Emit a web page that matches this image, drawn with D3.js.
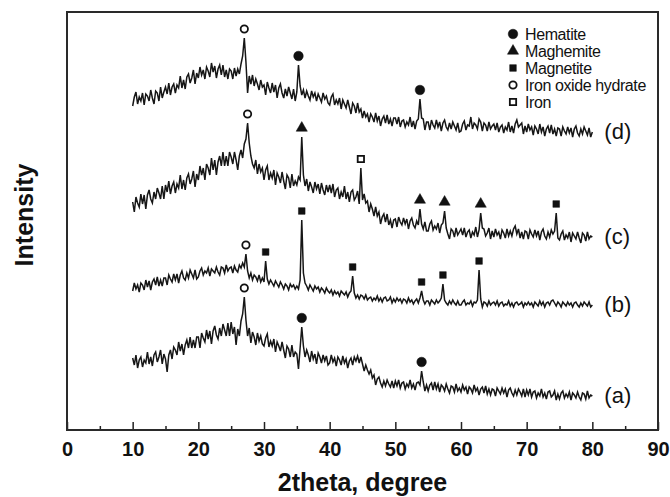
<!DOCTYPE html>
<html>
<head>
<meta charset="utf-8">
<script src="https://cdn.jsdelivr.net/npm/d3@7"></script>
<style>
  body { margin: 0; background: #fff; }
  text { font-family: "Liberation Sans", Arial, sans-serif; fill: #111; }
</style>
</head>
<body>
<div class="canvas"></div>
<script>
// 2theta grid: 10 .. 80 deg, 0.25 deg step
const thetaStart = 10;
const thetaStep = 0.25;

// pattern (a) - one row = 5 degrees
const intensityA = [
  42, 35, 45, 32, 40, 43, 33, 40, 37, 48, 36, 43, 34, 45, 48, 38, 43, 50, 36, 46,
  41, 28, 45, 50, 41, 53, 50, 45, 58, 49, 56, 45, 55, 60, 52, 63, 52, 60, 52, 63,
  63, 52, 67, 62, 58, 70, 61, 69, 56, 69, 74, 65, 61, 72, 64, 76, 70, 64, 77, 64,
  78, 66, 73, 55, 71, 64, 79, 86, 103, 80, 64, 72, 57, 68, 63, 55, 67, 59, 64, 56,
  54, 62, 66, 53, 59, 54, 61, 48, 58, 54, 49, 58, 50, 42, 54, 51, 43, 55, 43, 48,
  46, 31, 52, 73, 54, 43, 50, 45, 38, 49, 41, 46, 36, 47, 43, 37, 45, 39, 44, 35,
  37, 45, 38, 42, 34, 43, 40, 35, 44, 37, 41, 32, 39, 42, 35, 43, 39, 44, 37, 43,
  36, 29, 35, 30, 26, 30, 22, 25, 15, 21, 23, 17, 13, 19, 14, 20, 16, 13, 19, 12,
  19, 14, 20, 12, 17, 18, 11, 16, 13, 20, 12, 16, 10, 17, 18, 15, 29, 18, 9, 15,
  9, 15, 17, 10, 18, 11, 16, 8, 15, 13, 9, 16, 11, 7, 14, 13, 8, 16, 9, 12,
  8, 15, 10, 13, 6, 13, 11, 7, 15, 9, 12, 5, 11, 13, 7, 14, 6, 11, 5, 11,
  10, 4, 12, 9, 6, 12, 7, 11, 3, 10, 12, 7, 4, 10, 5, 11, 8, 4, 11, 3,
  10, 5, 11, 3, 8, 9, 2, 7, 4, 11, 3, 7, 1, 8, 9, 3, 5, 9, 0, 6,
  1, 7, 9, 2, 6, 3, 8, 0, 7, 5, 2, 8, 3, 0, 7, 6, 1, 9, 2, 5,
  4
];

// pattern (b)
const intensityB = [
  19, 27, 21, 25, 18, 27, 25, 20, 30, 23, 29, 20, 28, 31, 25, 33, 24, 30, 24, 32,
  32, 25, 35, 31, 28, 36, 30, 36, 27, 35, 39, 32, 30, 37, 32, 40, 36, 32, 40, 31,
  33, 39, 42, 35, 39, 37, 42, 34, 41, 39, 37, 43, 38, 35, 43, 42, 37, 45, 39, 42,
  43, 37, 44, 40, 38, 45, 42, 47, 43, 56, 39, 32, 37, 30, 35, 33, 29, 35, 28, 32,
  28, 49, 31, 26, 30, 27, 24, 29, 26, 23, 28, 25, 21, 26, 24, 20, 26, 23, 25, 21,
  24, 21, 30, 90, 37, 27, 24, 20, 25, 22, 19, 24, 21, 23, 18, 22, 20, 17, 22, 19,
  17, 20, 15, 19, 16, 18, 14, 19, 17, 15, 18, 13, 17, 19, 34, 17, 12, 15, 11, 15,
  14, 11, 15, 10, 12, 13, 9, 12, 10, 14, 9, 12, 8, 12, 13, 9, 10, 13, 7, 11,
  8, 12, 9, 11, 7, 11, 10, 7, 12, 8, 10, 6, 9, 11, 7, 12, 19, 10, 6, 9,
  9, 5, 10, 8, 6, 10, 7, 9, 12, 26, 10, 7, 5, 9, 6, 10, 7, 5, 9, 5,
  5, 8, 10, 5, 7, 6, 9, 4, 8, 7, 10, 40, 11, 3, 8, 7, 4, 9, 5, 7,
  8, 5, 9, 4, 7, 8, 4, 6, 5, 9, 4, 7, 3, 7, 8, 5, 6, 8, 3, 7,
  5, 8, 5, 7, 3, 8, 6, 4, 9, 5, 8, 3, 7, 8, 5, 9, 10, 7, 4, 8,
  6, 3, 8, 6, 4, 8, 5, 7, 3, 7, 8, 5, 3, 7, 4, 8, 6, 4, 8, 3,
  5
];

// pattern (c)
const intensityC = [
  38, 28, 43, 37, 33, 46, 36, 45, 31, 45, 50, 41, 37, 48, 41, 52, 47, 41, 54, 41,
  55, 48, 59, 46, 54, 58, 47, 56, 52, 65, 51, 60, 50, 62, 66, 56, 61, 69, 53, 66,
  60, 74, 65, 72, 60, 76, 72, 65, 82, 70, 80, 65, 78, 84, 74, 88, 74, 84, 74, 88,
  83, 76, 88, 80, 70, 84, 90, 82, 96, 101, 117, 97, 84, 76, 72, 80, 66, 76, 68, 72,
  60, 70, 74, 60, 67, 62, 70, 55, 67, 63, 57, 68, 59, 51, 65, 62, 52, 66, 54, 59,
  55, 63, 60, 103, 65, 54, 61, 49, 58, 53, 47, 58, 51, 56, 46, 57, 50, 45, 55, 48,
  55, 47, 56, 43, 50, 52, 41, 48, 43, 54, 41, 48, 38, 48, 50, 40, 43, 49, 36, 72,
  40, 46, 37, 39, 28, 36, 31, 24, 33, 24, 28, 16, 23, 26, 18, 26, 15, 20, 12, 20,
  21, 13, 23, 18, 15, 22, 16, 21, 11, 19, 22, 15, 12, 19, 15, 31, 16, 11, 18, 9,
  9, 16, 19, 10, 14, 11, 17, 7, 15, 17, 29, 12, 6, 1, 11, 9, 3, 12, 5, 8,
  11, 5, 12, 3, 8, 10, 2, 8, 5, 13, 3, 10, 27, 12, 11, 4, 7, 12, 1, 9,
  3, 11, 5, 8, 1, 10, 7, 2, 11, 4, 9, 4, 11, 14, 6, 11, 2, 8, 1, 9,
  8, 1, 10, 6, 3, 10, 4, 9, 0, 8, 11, 4, 1, 8, 3, 10, 6, 9, 27, 2,
  0, 6, 9, 0, 5, 2, 8, -2, 7, 4, 1, 8, 2, -3, 7, 5, -1, 8, 1, 4,
  3
];

// pattern (d)
const intensityD = [
  29, 38, 43, 31, 38, 34, 42, 30, 41, 39, 34, 45, 37, 31, 44, 42, 34, 48, 37, 43,
  48, 41, 52, 40, 48, 51, 42, 50, 47, 59, 47, 55, 46, 58, 61, 52, 57, 65, 51, 62,
  57, 68, 60, 65, 56, 68, 64, 58, 72, 63, 69, 57, 66, 70, 60, 70, 58, 65, 56, 66,
  64, 56, 67, 59, 66, 61, 71, 79, 97, 73, 42, 59, 51, 60, 49, 56, 51, 45, 55, 48,
  50, 40, 53, 47, 42, 52, 43, 50, 37, 47, 51, 42, 37, 46, 39, 48, 42, 36, 46, 34,
  43, 70, 49, 40, 45, 37, 44, 39, 35, 44, 38, 42, 34, 41, 37, 33, 42, 36, 39, 32,
  30, 38, 41, 30, 35, 31, 37, 26, 35, 31, 27, 35, 28, 21, 32, 29, 22, 32, 23, 26,
  17, 24, 18, 21, 13, 21, 18, 13, 22, 14, 19, 9, 16, 19, 12, 20, 11, 16, 9, 17,
  17, 11, 18, 8, 14, 15, 8, 13, 10, 18, 8, 14, 6, 14, 16, 36, 17, 16, 5, 13,
  13, 5, 15, 10, 7, 15, 8, 13, 4, 12, 15, 8, 5, 12, 6, 13, 9, 5, 12, 3,
  4, 11, 14, 5, 10, 9, 18, 6, 12, 10, 6, 16, 13, 4, 12, 10, 4, 13, 6, 9,
  11, 5, 12, 3, 8, 10, 2, 8, 5, 13, 3, 9, 2, 11, 15, 8, 10, 12, 1, 9,
  3, 11, 5, 8, 0, 9, 6, 1, 11, 3, 8, -1, 6, 9, 2, 10, 1, 6, -1, 7,
  6, -1, 8, 4, 1, 8, 2, 7, -2, 6, 9, 2, -1, 6, 1, 8, 4, 0, 7, -2,
  3
];

const patternNames = ["(a)", "(b)", "(c)", "(d)"];
const patternOffsets = [30, 120, 190, 295];

// peak identification marks
const peakPattern = ["(a)", "(a)", "(a)",
  "(b)", "(b)", "(b)", "(b)", "(b)", "(b)", "(b)",
  "(c)", "(c)", "(c)", "(c)", "(c)", "(c)", "(c)",
  "(d)", "(d)", "(d)"];
const peakAngle = [27, 35.75, 54,
  27.25, 30.25, 35.75, 43.5, 54, 57.25, 62.75,
  27.5, 35.75, 44.75, 53.75, 57.5, 63, 74.5,
  27, 35.25, 53.75];
const peakPhase = ["Iron oxide hydrate", "Hematite", "Hematite",
  "Iron oxide hydrate", "Magnetite", "Magnetite", "Magnetite", "Magnetite", "Magnetite", "Magnetite",
  "Iron oxide hydrate", "Maghemite", "Iron", "Maghemite", "Maghemite", "Maghemite", "Magnetite",
  "Iron oxide hydrate", "Hematite", "Hematite"];

const phaseNames = ["Hematite", "Maghemite", "Magnetite", "Iron oxide hydrate", "Iron"];
const xTicks = [0, 10, 20, 30, 40, 50, 60, 70, 80, 90];
const xMinorTicks = [5, 15, 25, 35, 45, 55, 65, 75, 85];

const margin = { top: 12, right: 12, bottom: 67, left: 67 };
const width = 670 - margin.left - margin.right;
const height = 497 - margin.top - margin.bottom;

const svg = d3
  .select(".canvas")
  .append("svg")
  .attr("width", width + margin.left + margin.right)
  .attr("height", height + margin.top + margin.bottom)
  .append("g")
  .attr("transform", `translate(${margin.left},${margin.top})`);

const x = d3.scaleLinear().domain([0, 90]).range([0, width]);
const y = d3.scaleLinear().domain([0, 418]).range([height, 0]);

const series = [intensityA, intensityB, intensityC, intensityD].map((arr, i) => ({
  name: patternNames[i],
  offset: patternOffsets[i],
  values: arr.map((v, j) => ({ t: thetaStart + j * thetaStep, v: v }))
}));

const line = d3
  .line()
  .x((d) => x(d.t))
  .y((d) => y(d.v));

// patterns
series.forEach((s) => {
  svg
    .append("path")
    .datum(s.values.map((d) => ({ t: d.t, v: d.v + s.offset })))
    .attr("d", line)
    .attr("fill", "none")
    .attr("stroke", "#161616")
    .attr("stroke-width", 1.5);

  const tail = s.values.slice(-12);
  const level = d3.mean(tail, (d) => d.v) + s.offset;
  svg
    .append("text")
    .attr("x", x(80) + 12)
    .attr("y", y(level))
    .attr("dy", "0.35em")
    .style("font-size", "22px")
    .text(s.name);
});

// marker shapes per phase
const phaseStyle = {
  "Hematite": { type: d3.symbolCircle, size: 72, filled: true },
  "Maghemite": { type: d3.symbolTriangle, size: 54, filled: true },
  "Magnetite": { type: d3.symbolSquare, size: 44, filled: true },
  "Iron oxide hydrate": { type: d3.symbolCircle, size: 42, filled: false },
  "Iron": { type: d3.symbolSquare, size: 40, filled: false }
};

function drawMark(g, phase, cx, cy) {
  const st = phaseStyle[phase];
  g.append("path")
    .attr("d", d3.symbol().type(st.type).size(st.size)())
    .attr("transform", `translate(${cx},${cy})`)
    .attr("fill", st.filled ? "#111" : "#fff")
    .attr("stroke", "#111")
    .attr("stroke-width", st.filled ? 0.5 : 1.8);
}

peakAngle.forEach((t, i) => {
  const s = series[patternNames.indexOf(peakPattern[i])];
  const idx = Math.round((t - thetaStart) / thetaStep);
  const top = y(s.values[idx].v + s.offset);
  drawMark(svg, peakPhase[i], x(t), top - 9);
});

// legend
const legend = svg.append("g").attr("transform", `translate(${513 - margin.left},${34 - margin.top})`);
phaseNames.forEach((p, i) => {
  drawMark(legend, p, 0, i * 17);
  legend
    .append("text")
    .attr("x", 12)
    .attr("y", i * 17)
    .attr("dy", "0.36em")
    .style("font-size", "16px")
    .style("letter-spacing", "-0.4px")
    .text(p);
});

// axis
const xAxis = svg.append("g").attr("transform", `translate(0,${height})`);
xAxis.call(
  d3.axisBottom(x).tickValues(xTicks).tickSizeInner(-8).tickSizeOuter(0).tickPadding(12)
);
xAxis.select(".domain").remove();
xAxis.selectAll(".tick line").attr("stroke", "#222").attr("stroke-width", 1.5);
xAxis.selectAll("text").style("font-size", "20px").style("font-weight", "bold").attr("fill", "#111");

const xMinor = svg.append("g").attr("transform", `translate(0,${height})`);
xMinor.call(d3.axisBottom(x).tickValues(xMinorTicks).tickSizeInner(-4).tickSizeOuter(0).tickFormat(""));
xMinor.select(".domain").remove();
xMinor.selectAll(".tick line").attr("stroke", "#222").attr("stroke-width", 1.5);

// frame
svg
  .append("rect")
  .attr("width", width)
  .attr("height", height)
  .attr("fill", "none")
  .attr("stroke", "#2a2a2a")
  .attr("stroke-width", 2);

// axis titles
svg
  .append("text")
  .attr("x", width / 2)
  .attr("y", 491 - margin.top)
  .attr("text-anchor", "middle")
  .style("font-size", "25px")
  .style("font-weight", "bold")
  .text("2theta, degree");

svg
  .append("text")
  .attr("transform", `translate(${33 - margin.left},${215 - margin.top}) rotate(-90)`)
  .attr("text-anchor", "middle")
  .style("font-size", "25px")
  .style("font-weight", "bold")
  .text("Intensity");
</script>
</body>
</html>
